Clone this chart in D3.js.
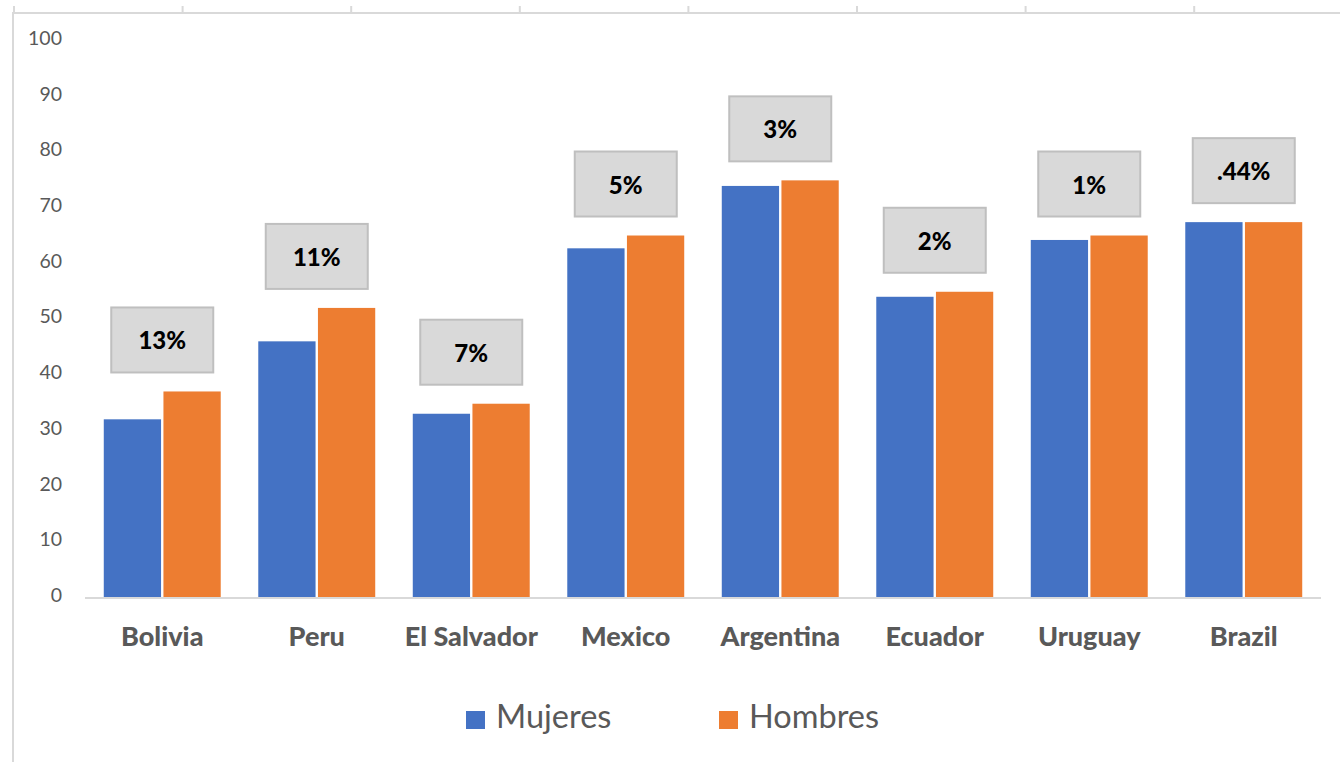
<!DOCTYPE html>
<html>
<head>
<meta charset="utf-8">
<script src="https://cdn.jsdelivr.net/npm/d3@7"></script>
<style>
  body { margin: 0; background: #fff; }
  svg { display: block; }
</style>
</head>
<body>
<div id="container"></div>
<script>
let width = 1340;
let height = 762;

// data
let countries = ["Bolivia", "Peru", "El Salvador", "Mexico", "Argentina", "Ecuador", "Uruguay", "Brazil"];
let mujeres = [31.9, 45.9, 32.9, 62.6, 73.8, 53.9, 64.1, 67.3];
let hombres = [36.9, 51.9, 34.7, 64.9, 74.8, 54.8, 64.9, 67.3];
let gapLabels = ["13%", "11%", "7%", "5%", "3%", "2%", "1%", ".44%"];
let seriesNames = ["Mujeres", "Hombres"];
let yTicks = [0, 10, 20, 30, 40, 50, 60, 70, 80, 90, 100];

let colors = ["#4472c4", "#ed7d31"];
let textGrey = "#595959";
let lineGrey = "#d9d9d9";

let svg = d3.select("#container")
  .append("svg")
  .attr("width", width)
  .attr("height", height);

// sheet frame (top and left edges with column ticks)
svg.append("line").attr("x1", 12).attr("x2", width).attr("y1", 13).attr("y2", 13)
  .attr("stroke", lineGrey).attr("stroke-width", 2);
svg.append("line").attr("x1", 13).attr("x2", 13).attr("y1", 13).attr("y2", height)
  .attr("stroke", lineGrey).attr("stroke-width", 2);
let colEdges = d3.range(8).map(i => 14 + i * 168.6);
svg.selectAll(".coltick").data(colEdges).enter().append("line")
  .attr("x1", d => d).attr("x2", d => d).attr("y1", 6).attr("y2", 13)
  .attr("stroke", lineGrey).attr("stroke-width", 2);

let margin = { left: 85, right: 19, top: 40, bottom: 165 };

let x = d3.scaleBand()
  .domain(countries)
  .range([margin.left, width - margin.right])
  .paddingInner(0.243)
  .paddingOuter(0.1215);

let x1 = d3.scaleBand()
  .domain(seriesNames)
  .range([0, x.bandwidth()])
  .paddingInner(0.04);

let y = d3.scaleLinear()
  .domain([0, 100])
  .range([height - margin.bottom, margin.top]);

// y tick labels
svg.selectAll(".ytick").data(yTicks).enter().append("text")
  .attr("x", 62)
  .attr("y", d => y(d))
  .attr("text-anchor", "end")
  .attr("dominant-baseline", "middle")
  .style("font-family", "Lato, sans-serif")
  .style("font-size", "19.5px")
  .style("fill", textGrey)
  .text(d => d);

// bars
let groups = svg.selectAll(".grp").data(countries).enter().append("g")
  .attr("transform", d => `translate(${x(d)},0)`);

groups.append("rect")
  .attr("x", x1("Mujeres"))
  .attr("width", x1.bandwidth())
  .attr("y", (d, i) => y(mujeres[i]))
  .attr("height", (d, i) => y(0) - y(mujeres[i]))
  .attr("fill", colors[0]);

groups.append("rect")
  .attr("x", x1("Hombres"))
  .attr("width", x1.bandwidth())
  .attr("y", (d, i) => y(hombres[i]))
  .attr("height", (d, i) => y(0) - y(hombres[i]))
  .attr("fill", colors[1]);

// baseline
svg.append("line")
  .attr("x1", margin.left).attr("x2", width - margin.right)
  .attr("y1", y(0) + 1).attr("y2", y(0) + 1)
  .attr("stroke", lineGrey).attr("stroke-width", 2);

// category labels
svg.selectAll(".cat").data(countries).enter().append("text")
  .attr("x", d => x(d) + x.bandwidth() / 2)
  .attr("y", 646)
  .attr("text-anchor", "middle")
  .style("font-family", "Lato, sans-serif")
  .style("font-weight", "900")
  .style("font-size", "27px")
  .style("fill", textGrey)
  .text(d => d);

// gap label boxes
let boxW = 102, boxH = 65;
let labels = svg.selectAll(".gap").data(countries).enter().append("g")
  .attr("transform", (d, i) => {
    let cx = x(d) + x.bandwidth() / 2;
    let top = y(Math.max(mujeres[i], hombres[i])) - 19 - boxH;
    return `translate(${cx},${top})`;
  });
labels.append("rect")
  .attr("x", -boxW / 2).attr("y", 0)
  .attr("width", boxW).attr("height", boxH)
  .attr("fill", "#d9d9d9")
  .attr("stroke", "#bfbfbf")
  .attr("stroke-width", 2);
labels.append("text")
  .attr("x", 0).attr("y", boxH / 2)
  .attr("text-anchor", "middle")
  .attr("dominant-baseline", "central")
  .style("font-family", "Lato, sans-serif")
  .style("font-weight", "900")
  .style("font-size", "24px")
  .style("fill", "#000")
  .text((d, i) => gapLabels[i]);

// legend
let legendX = [466, 719];
let legend = svg.selectAll(".leg").data(seriesNames).enter().append("g")
  .attr("transform", (d, i) => `translate(${legendX[i]},711)`);
legend.append("rect")
  .attr("width", 19).attr("height", 18)
  .attr("fill", (d, i) => colors[i]);
legend.append("text")
  .attr("x", 30).attr("y", 17)
  .style("font-family", "Lato, sans-serif")
  .style("font-size", "32.5px")
  .style("fill", textGrey)
  .text(d => d);
</script>
</body>
</html>
